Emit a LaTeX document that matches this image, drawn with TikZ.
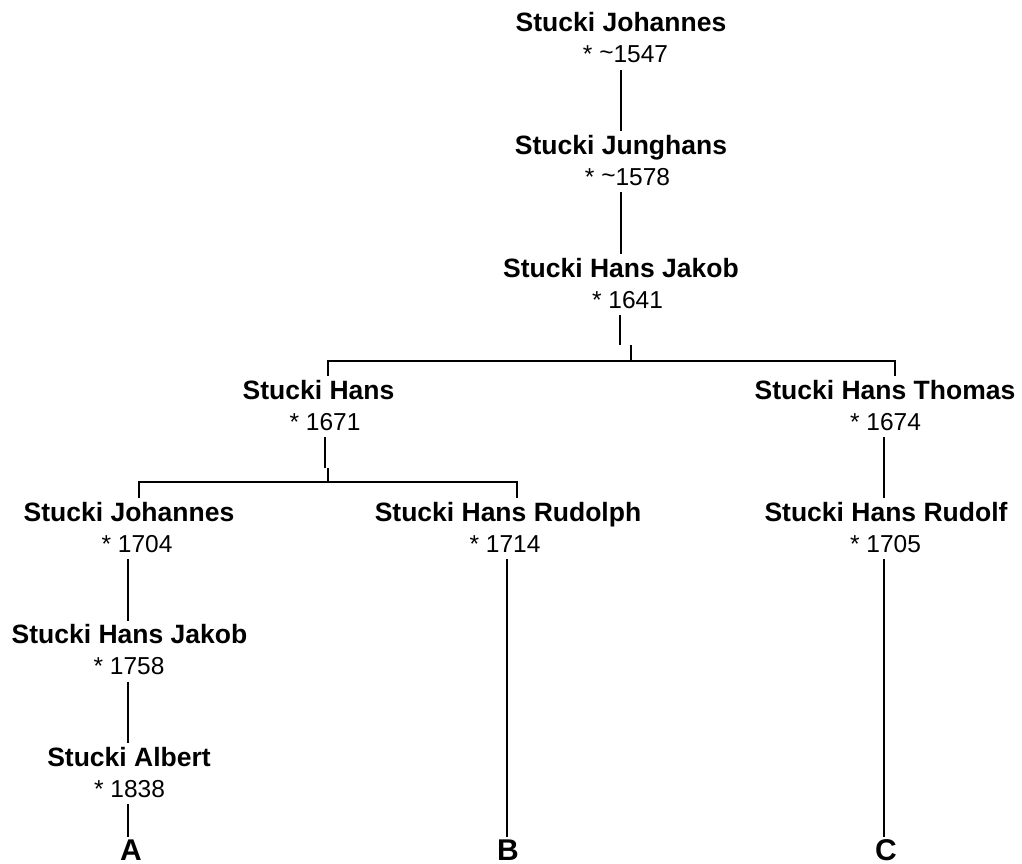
\documentclass[tikz,border=0pt]{standalone}
\usepackage{fontspec}
\setmainfont{Liberation Sans}
\newcommand{\uptilde}{\raisebox{2pt}{\textasciitilde}}
\begin{document}
\begin{tikzpicture}[x=1pt,y=-1pt,
  nm/.style={anchor=base,inner sep=0pt,text height=23pt,font=\fontsize{26.5pt}{30pt}\selectfont\bfseries},
  dt/.style={anchor=base,inner sep=0pt,text depth=7pt,font=\fontsize{24.5pt}{28pt}\selectfont},
  lt/.style={anchor=base,inner sep=0pt,text height=23pt,font=\fontsize{30pt}{34pt}\selectfont\bfseries},
  conn/.style={draw=black,line width=2pt}]
\useasboundingbox (0,0) rectangle (1022,864);
% persons
\node[nm] (n1) at (621,32) {Stucki Johannes};
\node[dt] (d1) at (625.5,63) {* \uptilde1547};
\node[nm] (n2) at (621,154.3) {Stucki Junghans};
\node[dt] (d2) at (627.5,185) {* \uptilde1578};
\node[nm] (n3) at (621,277) {Stucki Hans Jakob};
\node[dt] (d3) at (627.5,308) {* 1641};
\node[nm] (n4) at (318.5,399) {Stucki Hans};
\node[dt] (d4) at (325,430) {* 1671};
\node[nm] (n5) at (885,399) {Stucki Hans Thomas};
\node[dt] (d5) at (885.5,430) {* 1674};
\node[nm] (n6) at (129,521.3) {Stucki Johannes};
\node[dt] (d6) at (137,552) {* 1704};
\node[nm] (n7) at (508,521.3) {Stucki Hans Rudolph};
\node[dt] (d7) at (505,552) {* 1714};
\node[nm] (n8) at (886,521.3) {Stucki Hans Rudolf};
\node[dt] (d8) at (885.5,552) {* 1705};
\node[nm] (n9) at (129.5,643.7) {Stucki Hans Jakob};
\node[dt] (d9) at (129,674.5) {* 1758};
\node[nm] (n10) at (129,766) {Stucki Albert};
\node[dt] (d10) at (129.5,797) {* 1838};
\node[lt] (A) at (131,860) {A};
\node[lt] (B) at (508,860) {B};
\node[lt] (C) at (886,860) {C};
% line x positions
\coordinate (xa) at (620.5,0);
\coordinate (xb) at (620,0);
\coordinate (xc) at (631,0);
\coordinate (xd) at (325,0);
\coordinate (xe) at (328,0);
\coordinate (xf) at (884,0);
\coordinate (xg) at (895,0);
\coordinate (xh) at (128,0);
\coordinate (xi) at (139,0);
\coordinate (xj) at (507,0);
\coordinate (xk) at (517,0);
\coordinate (j3) at (620,345);
\coordinate (j3b) at (631,345);
\coordinate (h3) at (631,361);
\coordinate (j4) at (325,468);
\coordinate (j4b) at (328,468);
\coordinate (h4) at (328,482);
% connectors
\draw[conn] (d1.south -| xa) -- (n2.north -| xa);
\draw[conn] (d2.south -| xa) -- (n3.north -| xa);
\draw[conn] (d3.south -| xb) -- (j3);
\draw[conn] (j3b) -- (h3);
\draw[conn] (n4.north -| xe) |- (h3) -| (n5.north -| xg);
\draw[conn] (d4.south -| xd) -- (j4);
\draw[conn] (j4b) -- (h4);
\draw[conn] (n6.north -| xi) |- (h4) -| (n7.north -| xk);
\draw[conn] (d5.south -| xf) -- (n8.north -| xf);
\draw[conn] (d6.south -| xh) -- (n9.north -| xh);
\draw[conn] (d9.south -| xh) -- (n10.north -| xh);
\draw[conn] (d10.south -| xh) -- (A.north -| xh);
\draw[conn] (d7.south -| xj) -- (B.north -| xj);
\draw[conn] (d8.south -| xf) -- (C.north -| xf);
\end{tikzpicture}
\end{document}
